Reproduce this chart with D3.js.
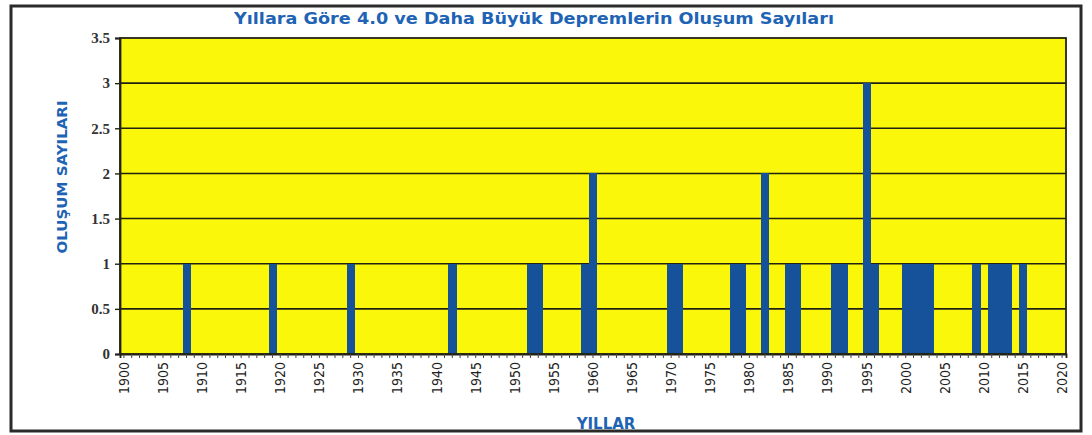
<!DOCTYPE html>
<html>
<head>
<meta charset="utf-8">
<script src="https://cdn.jsdelivr.net/npm/d3@7"></script>
<style>
  html, body { margin: 0; padding: 0; background: #ffffff; }
  svg { display: block; }
</style>
</head>
<body>
<svg id="chart" width="1092" height="435"></svg>
<script>
// ---- data ----
const years = d3.range(1900, 2021);               // category axis 1900..2020
const eventYears  = [1908, 1919, 1929, 1942, 1952, 1953, 1959, 1960, 1970, 1971, 1978, 1979, 1982, 1985, 1986, 1991, 1992, 1995, 1996, 2000, 2001, 2002, 2003, 2009, 2011, 2012, 2013, 2015];
const eventCounts = [1,    1,    1,    1,    1,    1,    1,    2,    1,    1,    1,    1,    2,    1,    1,    1,    1,    3,    1,    1,    1,    1,    1,    1,    1,    1,    1,    1];
const yTicks = [0, 0.5, 1, 1.5, 2, 2.5, 3, 3.5];
const xLabelYears = d3.range(1900, 2021, 5);
const titleText = "Yıllara  Göre 4.0 ve Daha Büyük Depremlerin Oluşum  Sayıları";
const yTitle = "OLUŞUM SAYILARI";
const xTitle = "YILLAR";

const data = eventYears.map((y, i) => ({ year: y, count: eventCounts[i] }));

// ---- layout ----
const svg = d3.select("#chart");
const plot = { left: 120, right: 1066, top: 38, bottom: 354 };
const blue = "#1e63b4";
const barBlue = "#15529a";

// outer frame
svg.append("rect").attr("x", 11).attr("y", 6).attr("width", 1070).attr("height", 425)
  .attr("fill", "#fff").attr("stroke", "#2a2a2a").attr("stroke-width", 3);

const x = d3.scaleBand().domain(years).range([plot.left, plot.right]).padding(0);
const y = d3.scaleLinear().domain([0, 3.5]).range([plot.bottom, plot.top]);

// plot background
svg.append("rect").attr("x", plot.left).attr("y", plot.top)
  .attr("width", plot.right - plot.left).attr("height", plot.bottom - plot.top)
  .attr("fill", "#fbf70a");

// gridlines
svg.append("g").selectAll("line").data(yTicks.filter(d => d > 0 && d < 3.5)).join("line")
  .attr("x1", plot.left).attr("x2", plot.right)
  .attr("y1", d => y(d)).attr("y2", d => y(d))
  .attr("stroke", "#222214").attr("stroke-width", 1.6);

// bars
svg.append("g").attr("shape-rendering", "crispEdges").selectAll("rect").data(data).join("rect")
  .attr("x", d => x(d.year)).attr("width", x.bandwidth() + 0.5)
  .attr("y", d => y(d.count)).attr("height", d => y(0) - y(d.count))
  .attr("fill", barBlue);

// plot border
svg.append("rect").attr("x", plot.left).attr("y", plot.top)
  .attr("width", plot.right - plot.left).attr("height", plot.bottom - plot.top)
  .attr("fill", "none").attr("stroke", "#222214").attr("stroke-width", 1.8);

// y axis
const yAxis = svg.append("g").attr("transform", `translate(${plot.left},0)`)
  .call(d3.axisLeft(y).tickValues(yTicks).tickSize(5).tickFormat(d3.format("")));
yAxis.select(".domain").attr("stroke", "#222214").attr("stroke-width", 1.8);
yAxis.selectAll(".tick line").attr("stroke", "#222214").attr("stroke-width", 1.4);
yAxis.selectAll("text").attr("font-family", "'Liberation Serif', serif").attr("font-weight", "bold")
  .attr("font-size", 15).attr("fill", "#333").attr("dx", -2);

// x axis: a tick every year, labels every 5 years
const xAxis = svg.append("g").attr("transform", `translate(0,${plot.bottom})`)
  .call(d3.axisBottom(x).tickValues(years).tickSize(4).tickFormat(d => xLabelYears.includes(d) ? d : ""));
xAxis.select(".domain").attr("stroke", "#222214").attr("stroke-width", 1.8);
xAxis.selectAll(".tick line").attr("stroke", "#444").attr("stroke-width", 1);
xAxis.selectAll("text")
  .attr("font-family", "'DejaVu Sans Condensed', 'DejaVu Sans', sans-serif")
  .attr("font-size", 14).attr("fill", "#222")
  .attr("transform", "rotate(-90)")
  .attr("text-anchor", "end")
  .attr("x", -8).attr("y", 0).attr("dy", "0.35em");

// titles
svg.append("text").attr("x", 534).attr("y", 24).attr("text-anchor", "middle")
  .attr("font-family", "'DejaVu Sans', sans-serif").attr("font-weight", "bold")
  .attr("font-size", 16).attr("fill", blue)
  .attr("textLength", 600).attr("lengthAdjust", "spacingAndGlyphs").text(titleText);

svg.append("text").attr("transform", "translate(67,177) rotate(-90)").attr("text-anchor", "middle")
  .attr("font-family", "'DejaVu Sans', sans-serif").attr("font-weight", "bold")
  .attr("font-size", 14).attr("fill", blue)
  .attr("textLength", 153).attr("lengthAdjust", "spacingAndGlyphs").text(yTitle);

svg.append("text").attr("x", 606).attr("y", 429).attr("text-anchor", "middle")
  .attr("font-family", "'DejaVu Sans', sans-serif").attr("font-weight", "bold")
  .attr("font-size", 15).attr("fill", blue).text(xTitle);
</script>
</body>
</html>
